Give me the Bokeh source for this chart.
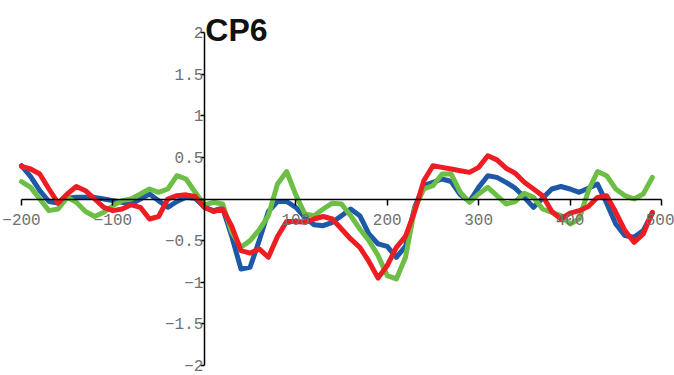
from bokeh.plotting import figure
from bokeh.models import Range1d, FixedTicker, Label
from bokeh.embed import file_html
from bokeh.resources import INLINE

time_ms = list(range(-200, 500, 10))

blue = [0.40, 0.27, 0.10, -0.03, -0.05, 0.01, 0.02, 0.02, 0.02, 0.00,
        -0.02, -0.04, -0.06, 0.00, 0.06, -0.02, -0.10, -0.03, 0.02, 0.01,
        -0.10, -0.14, -0.11, -0.45, -0.84, -0.82, -0.50, -0.15, -0.03, -0.03,
        -0.10, -0.22, -0.31, -0.32, -0.28, -0.20, -0.12, -0.20, -0.42, -0.54,
        -0.57, -0.70, -0.57, -0.10, 0.16, 0.20, 0.24, 0.21, 0.05, -0.03,
        0.14, 0.28, 0.26, 0.20, 0.13, 0.02, -0.10, 0.01, 0.12, 0.15,
        0.12, 0.08, 0.13, 0.18, -0.05, -0.30, -0.44, -0.46, -0.38, -0.17]

green = [0.21, 0.14, 0.00, -0.14, -0.12, 0.02, -0.04, -0.15, -0.21, -0.16,
         -0.08, -0.02, 0.00, 0.06, 0.12, 0.08, 0.12, 0.28, 0.24, 0.08,
         -0.07, -0.04, -0.06, -0.40, -0.58, -0.50, -0.37, -0.20, 0.18, 0.33,
         0.05, -0.18, -0.20, -0.12, -0.05, -0.06, -0.20, -0.36, -0.50, -0.68,
         -0.92, -0.96, -0.70, -0.12, 0.12, 0.16, 0.30, 0.30, 0.08, -0.04,
         0.06, 0.14, 0.04, -0.06, -0.03, 0.07, 0.02, -0.12, -0.16, -0.20,
         -0.30, -0.24, 0.10, 0.33, 0.28, 0.12, 0.04, 0.00, 0.06, 0.26]

red = [0.39, 0.36, 0.30, 0.12, -0.05, 0.06, 0.15, 0.10, 0.00, -0.10,
       -0.14, -0.12, -0.07, -0.10, -0.24, -0.21, 0.00, 0.04, 0.05, 0.03,
       -0.10, -0.15, -0.12, -0.33, -0.62, -0.65, -0.60, -0.70, -0.45, -0.27,
       -0.27, -0.28, -0.24, -0.21, -0.24, -0.36, -0.48, -0.58, -0.75, -0.95,
       -0.80, -0.58, -0.45, -0.15, 0.22, 0.40, 0.38, 0.36, 0.34, 0.32,
       0.38, 0.52, 0.47, 0.37, 0.31, 0.20, 0.12, 0.04, -0.15, -0.24,
       -0.17, -0.14, -0.09, 0.02, 0.04, -0.16, -0.38, -0.52, -0.42, -0.16]

x_ticks = [-200, -100, 0, 100, 200, 300, 400, 500]
x_tick_labels = ["\u2212200", "\u2212100", "", "100", "200", "300", "400", "500"]
y_ticks = [-2, -1.5, -1, -0.5, 0, 0.5, 1, 1.5, 2]
y_tick_labels = ["\u22122", "\u22121.5", "\u22121", "\u22120.5", "", "0.5", "1", "1.5", "2"]
title_text = "CP6"

# layout: canvas 674 x 375; x: -200 -> 21px, 500 -> 661px ; y: 2 -> 32px, -2 -> 365px
W, H = 674, 375
xpx = 640 / 700.0
ypx = 333 / 4.0
x0 = -200 - 21 / xpx
x1 = 500 + (W - 661) / xpx
y1 = 2 + 32 / ypx
y0 = -2 - (H - 365) / ypx

p = figure(frame_width=W, frame_height=H,
           x_range=Range1d(x0, x1), y_range=Range1d(y0, y1),
           output_backend="svg", toolbar_location=None,
           min_border=0, min_border_left=0, min_border_right=0,
           min_border_top=0, min_border_bottom=0)
p.outline_line_color = None
p.xgrid.visible = False
p.ygrid.visible = False
p.background_fill_color = "white"
p.border_fill_color = "white"

tick_font = "Liberation Mono"
tick_color = "#707070"

xa = p.xaxis[0]
xa.fixed_location = 0
xa.bounds = (-200, 500)
xa.ticker = FixedTicker(ticks=x_ticks)
xa.major_label_overrides = {t: l for t, l in zip(x_ticks, x_tick_labels)}
xa.minor_tick_line_color = None
xa.major_tick_in = 0
xa.major_tick_out = 6
xa.major_label_standoff = 9
xa.axis_line_width = 1.5
xa.major_tick_line_width = 1.5
xa.axis_line_color = "black"
xa.major_tick_line_color = "black"
xa.major_label_text_font = tick_font
xa.major_label_text_font_size = "16px"
xa.major_label_text_color = tick_color

ya = p.yaxis[0]
ya.fixed_location = 0
ya.bounds = (-2, 2)
ya.ticker = FixedTicker(ticks=y_ticks)
ya.major_label_overrides = {t: l for t, l in zip(y_ticks, y_tick_labels)}
ya.minor_tick_line_color = None
ya.major_tick_in = 0
ya.major_tick_out = 4
ya.major_label_standoff = -3
ya.axis_line_width = 1.5
ya.major_tick_line_width = 1.5
ya.axis_line_color = "black"
ya.major_tick_line_color = "black"
ya.major_label_text_font = tick_font
ya.major_label_text_font_size = "16px"
ya.major_label_text_color = tick_color

p.line(time_ms, blue, line_color="#1e59a8", line_width=5, line_join="round", line_cap="round")
p.line(time_ms, green, line_color="#6dbe45", line_width=5, line_join="round", line_cap="round")
p.line(time_ms, red, line_color="#ee1d23", line_width=5, line_join="round", line_cap="round")

title = Label(x=0, y=2 + 3 / ypx, text=title_text, x_offset=1, y_offset=0,
              text_font="Liberation Sans", text_font_style="bold",
              text_font_size="32px", text_color="#111111",
              text_baseline="alphabetic", text_align="left")
p.add_layout(title)

open("out.html", "w").write(file_html(p, INLINE))
